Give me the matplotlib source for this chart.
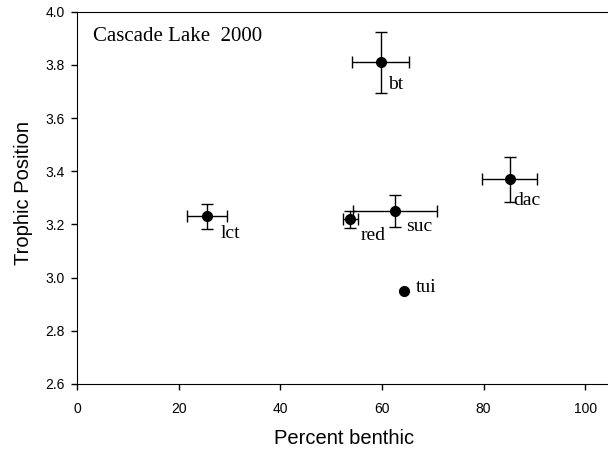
import matplotlib
matplotlib.use('Agg')
import matplotlib.pyplot as plt

# species data
species = ['lct', 'red', 'suc', 'dac', 'bt', 'tui']
pct_benthic = [25.6, 53.8, 62.6, 85.2, 59.8, 64.4]
pct_err = [3.9, 1.5, 8.2, 5.4, 5.6, 0.0]
trophic_pos = [3.23, 3.22, 3.25, 3.37, 3.81, 2.95]
trophic_err = [0.047, 0.032, 0.06, 0.084, 0.115, 0.0]

# label offsets in pixels (dx, dy)
label_dx = [14, 10, 11, 3, 7, 12]
label_dy = [-17, -16, -15, -21, -22, 3]

fig = plt.figure(figsize=(6.08, 4.51), dpi=100)
ax = fig.add_axes([77 / 608, 67 / 451, 1 - 77 / 608, (384 - 11.7) / 451])

for i in range(len(species)):
    xe = pct_err[i] if pct_err[i] > 0 else None
    ye = trophic_err[i] if trophic_err[i] > 0 else None
    ax.errorbar(pct_benthic[i], trophic_pos[i], xerr=xe, yerr=ye,
                fmt='o', color='black', ms=7, capsize=4.5, elinewidth=1, capthick=1)
    ax.annotate(species[i], (pct_benthic[i], trophic_pos[i]),
                xytext=(label_dx[i], label_dy[i]), textcoords='offset pixels',
                ha='left', va='center', family='Liberation Serif', fontsize=14)

fig.text(92.7 / 608, 1 - 36.7 / 451, 'Cascade Lake  2000',
         family='Liberation Serif', fontsize=15, va='center')

ax.set_xlim(0, 104.5)
ax.set_ylim(2.6, 4.0)
ax.set_xticks([0, 20, 40, 60, 80, 100])
ax.set_yticks([2.6, 2.8, 3.0, 3.2, 3.4, 3.6, 3.8, 4.0])
ax.set_yticklabels(['2.6', '2.8', '3.0', '3.2', '3.4', '3.6', '3.8', '4.0'])
ax.spines['right'].set_visible(False)
ax.tick_params(direction='out', length=4, width=1, labelsize=10)
ax.tick_params(axis='x', pad=9)
ax.tick_params(axis='y', pad=5)
for lab in ax.get_xticklabels() + ax.get_yticklabels():
    lab.set_family('Liberation Sans')

ax.set_xlabel('Percent benthic', family='Liberation Sans', fontsize=14.5)
ax.set_ylabel('Trophic Position', family='Liberation Sans', fontsize=14.5)
ax.xaxis.set_label_coords(0.5 - 0 / 531, (384 - 439) / 372.3)
ax.xaxis.label.set_va('center')
ax.xaxis.label.set_x((344 - 76.7) / 531.3)
ax.yaxis.set_label_coords((23.5 - 76.7) / 531.3, (384 - 193) / 372.3)
ax.yaxis.label.set_va('center')

fig.savefig('out.png', dpi=100)
